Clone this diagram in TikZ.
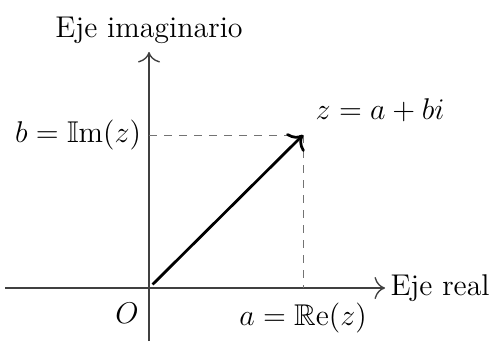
\documentclass[tikz,border=0pt]{standalone}
\usepackage{amssymb}
\usetikzlibrary{arrows.meta}
\begin{document}
\begin{tikzpicture}[x=0.4pt,y=-0.4pt,
  every node/.style={font=\fontsize{12}{14}\selectfont},
  axis/.style={draw=black!75,line width=0.55pt,-{To[scale=1.5]}},
  guide/.style={draw=black!55,dashed,line width=0.4pt},
  vec/.style={draw=black,line width=1.1pt,-{To[scale=1.2]}}]
\useasboundingbox (0,0) rectangle (497,341);
\coordinate (xs) at (5,288);
\coordinate (xe) at (385,288);
\coordinate (ys) at (149,341);
\coordinate (ye) at (149,52);
\coordinate (o) at (149,288);
\coordinate (p) at (303,135);
\coordinate (pb) at (149,135);
\coordinate (pa) at (303,288);
\draw[axis] (xs) -- (xe);
\draw[axis] (ys) -- (ye);
\draw[guide] (pb) -- (p);
\draw[guide] (p) -- (pa);
\draw[vec,shorten <=2pt] (o) -- (p);
\node[anchor=west,inner sep=2pt] (xl) at (xe) {Eje real};
\node[anchor=south,inner sep=3pt] (yl) at (ye) {Eje imaginario};
\node (ol) at (127,313) {$O$};
\node[anchor=east,inner sep=3pt] (bl) at (pb) {$b=\mathbb{I}\mathrm{m}(z)$};
\node (al) at (303,318) {$a=\mathbb{R}\mathrm{e}(z)$};
\node (zl) at (380,110) {$z=a+bi$};
\end{tikzpicture}
\end{document}
